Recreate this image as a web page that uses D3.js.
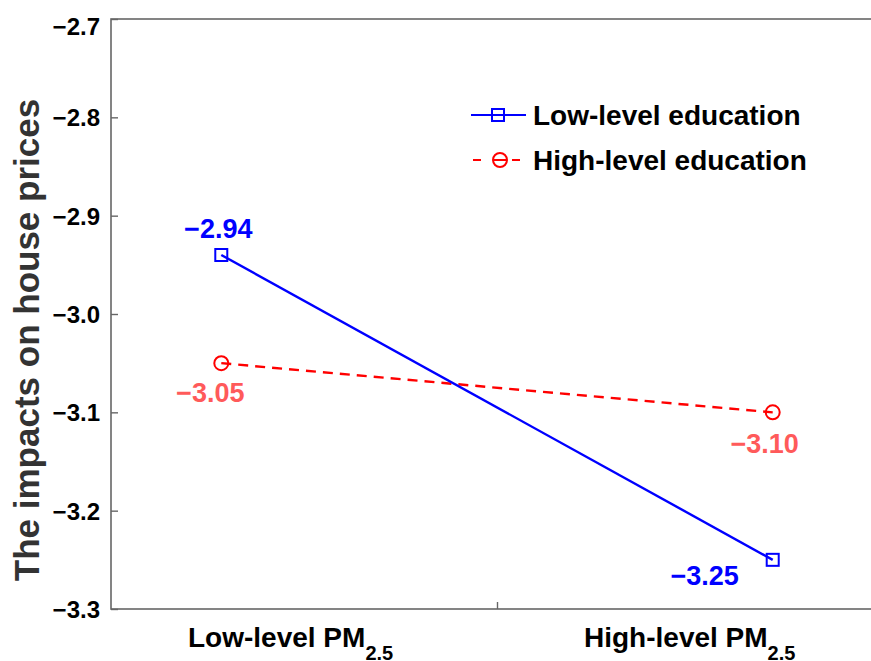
<!DOCTYPE html>
<html>
<head>
<meta charset="utf-8">
<script src="https://cdn.jsdelivr.net/npm/d3@7"></script>
<style>
body { margin: 0; background: #fff; }
text { font-family: "Liberation Sans", Arial, sans-serif; font-weight: bold; }
</style>
</head>
<body>
<div id="figure"></div>
<script>
var categories = [1, 2];
var catLabels = ["Low-level PM", "High-level PM"];
var lowEdu = [-2.94, -3.25];
var highEdu = [-3.05, -3.10];
var yTicks = [-2.7, -2.8, -2.9, -3.0, -3.1, -3.2, -3.3];
var seriesNames = ["Low-level education", "High-level education"];

var W = 871, H = 661;
var plotLeft = 111, plotTop = 19, plotBottom = 609;

var svg = d3.select("#figure").append("svg")
	.attr("width", W).attr("height", H);

var x = d3.scaleLinear().domain([0.8, 2.2]).range([plotLeft, 883]);
var y = d3.scaleLinear().domain([-2.7, -3.3]).range([plotTop, plotBottom]);

var axisCol = "#666";

// frame (right side falls outside the picture)
svg.append("rect")
	.attr("x", plotLeft).attr("y", plotTop)
	.attr("width", x(2.2) - plotLeft).attr("height", plotBottom - plotTop)
	.attr("fill", "none")
	.attr("stroke", axisCol)
	.attr("stroke-width", 1.6);

// y axis
var yAxis = svg.append("g")
	.attr("transform", "translate(" + plotLeft + ",0)")
	.call(d3.axisLeft(y).tickValues(yTicks).tickFormat(d3.format(".1f"))
		.tickSizeInner(-7).tickSizeOuter(0).tickPadding(11));
yAxis.select(".domain").remove();
yAxis.selectAll("line").attr("stroke", axisCol).attr("stroke-width", 1.4);
yAxis.selectAll("text")
	.attr("font-size", 24)
	.attr("fill", "#000")
	.attr("font-family", "Liberation Sans, Arial, sans-serif")
	.attr("dy", function(d) { return d == -2.7 ? "0.66em" : "0.36em"; });

// x axis: a single inward tick mid way
var xAxis = svg.append("g")
	.attr("transform", "translate(0," + plotBottom + ")")
	.call(d3.axisBottom(x).tickValues([1.5]).tickFormat("")
		.tickSizeInner(-7).tickSizeOuter(0));
xAxis.select(".domain").remove();
xAxis.selectAll("line").attr("stroke", axisCol).attr("stroke-width", 1.4);

// category labels with subscript
var labelX = [188, 584];
catLabels.forEach(function(lab, i) {
	var t = svg.append("text")
		.attr("x", labelX[i])
		.attr("y", 647)
		.attr("font-size", 28)
		.attr("fill", "#000");
	t.append("tspan").text(lab);
	t.append("tspan").text("2.5")
		.attr("font-size", 20)
		.attr("dy", 13);
});

// y title
svg.append("text")
	.attr("transform", "translate(39," + ((plotTop + plotBottom) / 2 + 26) + ")rotate(-90)")
	.attr("text-anchor", "middle")
	.attr("font-size", 35)
	.attr("fill", "#333")
	.text("The impacts on house prices");

// series lines
var line = d3.line()
	.x(function(d) { return x(d[0]); })
	.y(function(d) { return y(d[1]); });

var lowPts = categories.map(function(c, i) { return [c, lowEdu[i]]; });
var highPts = categories.map(function(c, i) { return [c, highEdu[i]]; });

svg.append("path")
	.attr("d", line(highPts))
	.attr("fill", "none")
	.attr("stroke", "#ff0000")
	.attr("stroke-width", 2.4)
	.attr("stroke-dasharray", "10,7");

svg.append("path")
	.attr("d", line(lowPts))
	.attr("fill", "none")
	.attr("stroke", "#0000ff")
	.attr("stroke-width", 2.4);

// markers
svg.selectAll("rect.sq")
	.data(lowPts)
	.enter()
	.append("rect")
	.attr("class", "sq")
	.attr("x", function(d) { return x(d[0]) - 6; })
	.attr("y", function(d) { return y(d[1]) - 6; })
	.attr("width", 12).attr("height", 12)
	.attr("fill", "none")
	.attr("stroke", "#0000ff")
	.attr("stroke-width", 2);

svg.selectAll("circle.ci")
	.data(highPts)
	.enter()
	.append("circle")
	.attr("class", "ci")
	.attr("cx", function(d) { return x(d[0]); })
	.attr("cy", function(d) { return y(d[1]); })
	.attr("r", 7)
	.attr("fill", "none")
	.attr("stroke", "#ff0000")
	.attr("stroke-width", 2);

// value labels
var fmt = d3.format(".2f");
var lowOff = [[-3, -17], [-68, 25]];
var highOff = [[-11, 39], [-8, 41]];

svg.selectAll("text.lowv")
	.data(lowPts)
	.enter()
	.append("text")
	.attr("class", "lowv")
	.attr("text-anchor", "middle")
	.attr("x", function(d, i) { return x(d[0]) + lowOff[i][0]; })
	.attr("y", function(d, i) { return y(d[1]) + lowOff[i][1]; })
	.attr("font-size", 27)
	.attr("fill", "#0000ff")
	.text(function(d) { return fmt(d[1]); });

svg.selectAll("text.highv")
	.data(highPts)
	.enter()
	.append("text")
	.attr("class", "highv")
	.attr("text-anchor", "middle")
	.attr("x", function(d, i) { return x(d[0]) + highOff[i][0]; })
	.attr("y", function(d, i) { return y(d[1]) + highOff[i][1]; })
	.attr("font-size", 27)
	.attr("fill", "#ff5a5a")
	.text(function(d) { return fmt(d[1]); });

// legend
var leg = svg.append("g");
var legY = [115, 160];

leg.append("line")
	.attr("x1", 471).attr("x2", 526)
	.attr("y1", legY[0]).attr("y2", legY[0])
	.attr("stroke", "#0000ff").attr("stroke-width", 2.2);
leg.append("rect")
	.attr("x", 492).attr("y", legY[0] - 6)
	.attr("width", 12).attr("height", 12)
	.attr("fill", "none").attr("stroke", "#0000ff").attr("stroke-width", 2);

leg.append("line")
	.attr("x1", 473).attr("x2", 521)
	.attr("y1", legY[1]).attr("y2", legY[1])
	.attr("stroke", "#ff0000").attr("stroke-width", 2.2)
	.attr("stroke-dasharray", "8,12,14,5,8,100");
leg.append("circle")
	.attr("cx", 500).attr("cy", legY[1]).attr("r", 7)
	.attr("fill", "none").attr("stroke", "#ff0000").attr("stroke-width", 2);

leg.selectAll("text")
	.data(seriesNames)
	.enter()
	.append("text")
	.attr("x", 533)
	.attr("y", function(d, i) { return legY[i] + 10; })
	.attr("font-size", 28)
	.attr("fill", "#000")
	.text(function(d) { return d; });
</script>
</body>
</html>
